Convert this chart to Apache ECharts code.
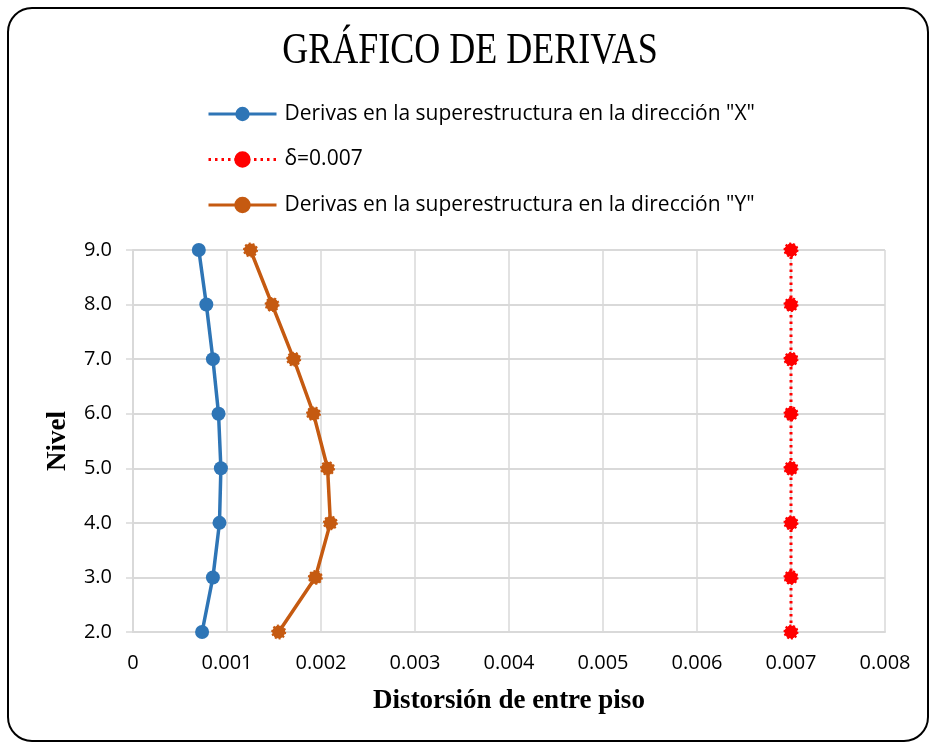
<!DOCTYPE html>
<html>
<head>
<meta charset="utf-8">
<title>Gráfico de derivas</title>
<script src="https://cdn.jsdelivr.net/npm/echarts@6/dist/echarts.min.js"></script>
<style>
  html, body { margin: 0; padding: 0; background: #ffffff; }
  #chart { width: 931px; height: 744px; }
</style>
</head>
<body>
<div id="chart"></div>
<script>
// Story levels (vertical axis)
const levels = [9, 8, 7, 6, 5, 4, 3, 2];
// Inter-story drift, X direction
const driftX = [0.00070, 0.00078, 0.00085, 0.00091, 0.000935, 0.00092, 0.00085, 0.000735];
// Inter-story drift, Y direction
const driftY = [0.00125, 0.00148, 0.00171, 0.00192, 0.00207, 0.00210, 0.00194, 0.00155];
// Allowable drift limit δ = 0.007
const driftLimit = [0.007, 0.007, 0.007, 0.007, 0.007, 0.007, 0.007, 0.007];
// Horizontal axis tick labels
const xTickLabels = ['0', '0.001', '0.002', '0.003', '0.004', '0.005', '0.006', '0.007', '0.008'];
// Series names
const seriesNames = ['Derivas en la superestructura en la dirección "X"', 'δ=0.007', 'Derivas en la superestructura en la dirección "Y"'];
const chartTitle = 'GRÁFICO DE DERIVAS';

const pairs = (xs) => xs.map((x, i) => [x, levels[i]]);

const chart = echarts.init(document.getElementById('chart'));
const sans = '"Open Sans", "Liberation Sans", sans-serif';
const serif = '"Liberation Serif", "DejaVu Serif", serif';
const gridColor = '#d9d9d9';

chart.setOption({
  animation: false,
  backgroundColor: '#ffffff',
  graphic: [
    {
      // rounded frame around the whole chart
      type: 'rect',
      shape: { x: 8, y: 8, width: 920, height: 733, r: 24 },
      style: { fill: 'none', stroke: '#000000', lineWidth: 2 },
      z: 0
    },
    {
      // tall serif title
      type: 'text',
      x: 470,
      y: 51,
      scaleY: 1.22,
      style: {
        text: chartTitle,
        font: 'normal 36px ' + serif,
        fill: '#000000',
        textAlign: 'center',
        textVerticalAlign: 'middle'
      },
      z: 5
    }
  ],
  legend: {
    orient: 'vertical',
    left: 207,
    top: 102,
    padding: 0,
    itemWidth: 68,
    itemHeight: 18,
    itemGap: 21.5,
    data: seriesNames,
    lineStyle: { width: 3 },
    textStyle: { fontFamily: sans, fontSize: 21, lineHeight: 24, color: '#000000', padding: [0, 0, 0, 3] }
  },
  grid: { left: 133, right: 46, top: 250, bottom: 112 },
  xAxis: {
    type: 'value',
    min: 0,
    max: 0.008,
    interval: 0.001,
    name: 'Distorsión de entre piso',
    nameLocation: 'middle',
    nameGap: 56,
    nameTextStyle: { fontFamily: serif, fontSize: 27, fontWeight: 'bold', color: '#000000' },
    axisLine: { show: true, lineStyle: { color: gridColor, width: 2 } },
    axisTick: { show: false },
    axisLabel: {
      fontFamily: sans, fontSize: 20, color: '#000000', margin: 21,
      formatter: (v) => xTickLabels[Math.round(v * 1000)]
    },
    splitLine: { show: true, lineStyle: { color: gridColor, width: 1.5 } }
  },
  yAxis: {
    type: 'value',
    min: 2,
    max: 9,
    interval: 1,
    name: 'Nivel',
    nameLocation: 'middle',
    nameGap: 61,
    nameTextStyle: { fontFamily: serif, fontSize: 27, fontWeight: 'bold', color: '#000000' },
    axisLine: { show: true, lineStyle: { color: gridColor, width: 2 } },
    axisTick: { show: true, inside: false, length: 7, lineStyle: { color: gridColor, width: 1.5 } },
    axisLabel: {
      fontFamily: sans, fontSize: 20, color: '#000000', margin: 21,
      formatter: (v) => v.toFixed(1)
    },
    splitLine: { show: true, lineStyle: { color: gridColor, width: 2 } }
  },
  series: [
    {
      name: seriesNames[0],
      type: 'line',
      data: pairs(driftX),
      symbol: 'circle',
      symbolSize: 14,
      lineStyle: { color: '#2E75B6', width: 3.5 },
      itemStyle: { color: '#2E75B6' },
      z: 3
    },
    {
      name: seriesNames[1],
      type: 'line',
      data: pairs(driftLimit),
      symbol: 'circle',
      symbolSize: 13,
      lineStyle: { color: '#FF0000', width: 3, type: [2.5, 4] },
      itemStyle: { color: '#FF0000', borderColor: '#FF0000', borderWidth: 2, borderType: [2, 2] },
      z: 3
    },
    {
      name: seriesNames[2],
      type: 'line',
      data: pairs(driftY),
      symbol: 'circle',
      symbolSize: 13,
      lineStyle: { color: '#C55A11', width: 3.5 },
      itemStyle: { color: '#C55A11', borderColor: '#C55A11', borderWidth: 2, borderType: [2, 2] },
      z: 3
    }
  ]
});
</script>
</body>
</html>
